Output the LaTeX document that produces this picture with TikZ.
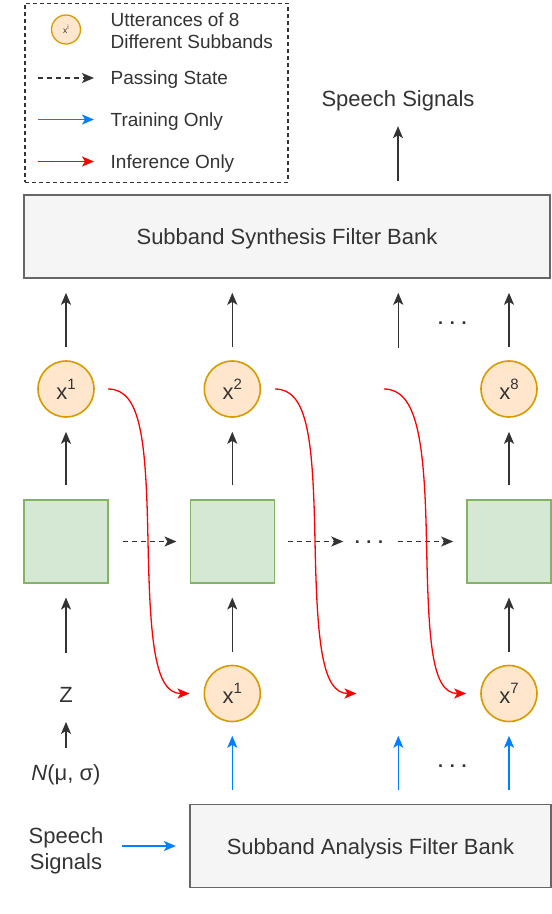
\documentclass[tikz,border=0pt]{standalone}
\usepackage{fontspec}
\setmainfont{Liberation Sans}
\usetikzlibrary{arrows.meta}
\definecolor{ink}{HTML}{333333}
\definecolor{boxfill}{HTML}{F5F5F5}
\definecolor{boxline}{HTML}{666666}
\definecolor{cfill}{HTML}{FFE6CC}
\definecolor{cline}{HTML}{D79B00}
\definecolor{gfill}{HTML}{D5E8D4}
\definecolor{gline}{HTML}{82B366}
\definecolor{tblue}{HTML}{007FFF}
\definecolor{ired}{HTML}{FF0000}
\newcommand\xpow[1]{x\raisebox{10pt}{\fontsize{15}{15}\selectfont #1}}
\begin{document}
\begin{tikzpicture}[x=1pt,y=-1pt,
  every node/.style={text=ink, inner sep=0pt, font=\fontsize{22}{25.7}\selectfont},
  legfont/.style={font=\fontsize{19}{21.6}\selectfont},
  bigbox/.style={draw=boxline, fill=boxfill, line width=1.6pt, minimum height=83pt, text height=16pt, text depth=0pt},
  utter/.style={circle, draw=cline, fill=cfill, line width=1.6pt, minimum size=56pt},
  cellbox/.style={draw=gline, fill=gfill, line width=1.6pt, minimum width=84pt, minimum height=83pt},
  dotsty/.style={font=\fontsize{18}{18}\selectfont\bfseries},
  arr/.style={draw=ink, line width=1.6pt, -{Stealth[length=12pt,width=10pt,inset=3pt]}},
  darr/.style={arr, dash pattern=on 5pt off 4pt},
  barr/.style={arr, draw=tblue},
  rarr/.style={draw=ired, line width=1.3pt, -{Stealth[length=12pt,width=10pt,inset=3pt]}},
]
\useasboundingbox (0,0) rectangle (552,914);

% legend
\node (leg) [draw=ink, line width=1.2pt, dash pattern=on 4pt off 3pt, minimum width=263pt, minimum height=179pt, anchor=north west] at (24.3,2.7) {};
\node (lc) [utter, minimum size=29pt, line width=1.3pt] at (66,29.5) {\fontsize{8.5}{8.5}\selectfont x\raisebox{4pt}{\fontsize{6.5}{6.5}\selectfont i}};
\node (lt1) [legfont, anchor=base west, align=left] at (110.5,48.3) {Utterances of 8\\Different Subbands};
\coordinate (p1a) at (38,78);   \coordinate (p1b) at (94,78);
\coordinate (p2a) at (38,119.5);\coordinate (p2b) at (94,119.5);
\coordinate (p3a) at (38,161.5);\coordinate (p3b) at (94,161.5);
\draw[darr] (p1a) -- (p1b);
\draw[barr] (p2a) -- (p2b);
\draw[rarr, line width=1.6pt] (p3a) -- (p3b);
\node (lt2) [legfont, anchor=base west] at (110.5,84.5) {Passing State};
\node (lt3) [legfont, anchor=base west] at (110.5,126) {Training Only};
\node (lt4) [legfont, anchor=base west] at (110.5,168) {Inference Only};

% top
\node (topsig) [anchor=base] at (398,106) {Speech Signals};
\node (synth) [bigbox, minimum width=526pt] at (287,236.5) {Subband Synthesis Filter Bank};
\draw[arr, shorten <=13.3pt, shorten >=15.4pt] (synth.north -| topsig.south) -- (topsig.south);

% top circles
\node (c1) [utter] at (66,389) {\xpow{1}};
\node (c2) [utter] at (232.3,389) {\xpow{2}};
\node (c8) [utter] at (509,389) {\xpow{8}};
\coordinate (col4) at (398.3,348);
\draw[arr, shorten <=13pt, shorten >=14pt] (c1.north) -- (c1.north |- synth.south);
\draw[arr, shorten <=13pt, shorten >=14pt] (c2.north) -- (c2.north |- synth.south);
\draw[arr, shorten <=13pt, shorten >=14pt] (c8.north) -- (c8.north |- synth.south);
\draw[arr, shorten >=14pt] (col4) -- (col4 |- synth.south);
\node (dtop) [dotsty, anchor=base] at (452.4,324) {. . .};

% cells
\node (b1) [cellbox] at (66,541.5) {};
\node (b2) [cellbox] at (232.3,541.5) {};
\node (b8) [cellbox] at (509,541.5) {};
\draw[arr, shorten <=14pt, shorten >=14pt] (b1.north) -- (c1.south);
\draw[arr, shorten <=14pt, shorten >=14pt] (b2.north) -- (c2.south);
\draw[arr, shorten <=14pt, shorten >=14pt] (b8.north) -- (c8.south);
\node (dmid) [dotsty, anchor=base] at (369,543.3) {. . .};
\draw[darr, shorten <=14pt, shorten >=13pt] (b1.east) -- (b2.west);
\draw[darr, shorten <=12.4pt, shorten >=25.7pt] (b2.east) -- (dmid.center |- b2.east);
\draw[darr, shorten <=29.3pt, shorten >=13pt] (dmid.center |- b8.west) -- (b8.west);

% bottom row
\node (z) [anchor=base] at (66,702) {Z};
\node (bc1) [utter] at (232.3,693.5) {\xpow{1}};
\node (bc7) [utter] at (509,693.5) {\xpow{7}};
\draw[arr, shorten <=33.6pt, shorten >=13.7pt] (z.north) -- (z.north |- b1.south);
\draw[arr, shorten <=13pt, shorten >=13.7pt] (bc1.north) -- (b2.south);
\draw[arr, shorten <=13pt, shorten >=13.7pt] (bc7.north) -- (b8.south);
\node (nd) [anchor=base] at (66,780) {\textit{N}(μ, σ)};
\draw[arr, shorten <=16pt, shorten >=19.7pt] (nd.north) -- (z.south);

% red inference curves
\coordinate (m1) at (148,541);
\coordinate (s3) at (384,389);
\coordinate (m2) at (315,541);
\coordinate (e2) at (356.5,693.5);
\coordinate (m3) at (426.5,541);
\draw[rarr] ([xshift=13.3pt]c1.east) .. controls +(33,0) and +(-2,-101) .. (m1)
  .. controls +(2,99) and +(-35,0) .. ([xshift=-14pt]bc1.west);
\draw[rarr] ([xshift=14pt]c2.east) .. controls +(33,0) and +(-2,-101) .. (m2)
  .. controls +(2,99) and +(-35,0) .. (e2);
\draw[rarr] (s3) .. controls +(33,0) and +(-2,-101) .. (m3)
  .. controls +(2,99) and +(-35,0) .. ([xshift=-14pt]bc7.west);

% analysis
\node (abox) [bigbox, minimum width=361pt] at (370.5,846) {Subband Analysis Filter Bank};
\node (bsig) [align=center] at (66,850.5) {Speech\\Signals};
\draw[barr, shorten <=18.4pt, shorten >=13.3pt] (bsig.east |- abox.west) -- (abox.west);
\draw[barr, shorten <=14pt, shorten >=13.5pt] (abox.north -| bc1.south) -- (bc1.south);
\draw[barr, shorten <=14pt, shorten >=13.5pt] (abox.north -| col4) -- (col4 |- bc1.south);
\draw[barr, shorten <=14pt, shorten >=13.5pt] (abox.north -| bc7.south) -- (bc7.south);
\node (dbot) [dotsty, anchor=base] at (452.4,767.5) {. . .};
\end{tikzpicture}
\end{document}
